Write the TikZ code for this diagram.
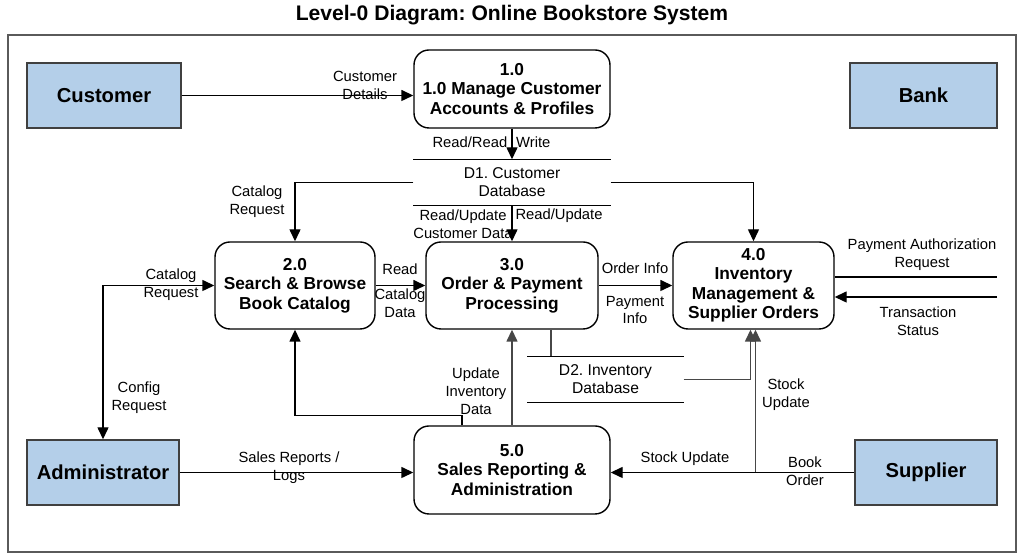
\documentclass[tikz,border=0pt]{standalone}
\usepackage{fontspec}
\setmainfont{Liberation Sans}
\usetikzlibrary{arrows.meta}
\definecolor{entityblue}{RGB}{180,207,233}
\definecolor{framegray}{RGB}{90,90,90}
\frenchspacing

\begin{document}
\begin{tikzpicture}[thick, >={Triangle[length=0.24cm,width=0.22cm]},
  entity/.style={rectangle, draw=black!75, fill=entityblue, font=\fontsize{11.5}{13}\selectfont\bfseries, minimum height=1.3cm},
  process/.style={rectangle, rounded corners=0.3cm, draw, fill=white, align=center, font=\fontsize{9.85}{11.1}\selectfont\bfseries, minimum height=1.74cm},
  store/.style={rectangle, draw=none, align=center, font=\fontsize{8.9}{10.3}\selectfont, minimum height=0.9cm},
  flow/.style={rectangle, draw=none, align=center, font=\fontsize{8.4}{10.2}\selectfont, inner sep=1pt},
  grayline/.style={draw=black!72}]
\useasboundingbox (0,0) rectangle (20.48,11.18);
%%%%%%%%%%%%%%%%%%%%%%%%%%%%%%% frame and title
\draw[framegray, line width=0.9pt] (0.16,0.14) rectangle (20.32,10.48);
\node[rectangle, draw=none, font=\fontsize{12}{14}\selectfont\bfseries](title) at (10.24,10.88){Level-0 Diagram: Online Bookstore System};

%%%%%%%%%%%%%%%%%%%%%%%%%%%%%%% external entities
\node[entity, minimum width=3.08cm](customer) at (2.08,9.27){Customer};
\node[entity, minimum width=2.94cm](bank) at (18.47,9.27){Bank};
\node[entity, minimum width=3.04cm](admin) at (2.06,1.73){Administrator};
\node[entity, minimum width=2.84cm](supplier) at (18.52,1.73){Supplier};

%%%%%%%%%%%%%%%%%%%%%%%%%%%%%%% processes
\node[process, minimum width=3.92cm, minimum height=1.56cm](p1) at (10.24,9.40){1.0\\1.0 Manage Customer\\Accounts \& Profiles};
\node[process, minimum width=3.20cm](p2) at (5.90,5.47){2.0\\Search \& Browse\\Book Catalog};
\node[process, minimum width=3.44cm](p3) at (10.24,5.47){3.0\\Order \& Payment\\Processing};
\node[process, minimum width=3.22cm](p4) at (15.07,5.47){4.0\\Inventory\\Management \&\\Supplier Orders};
\node[process, minimum width=3.92cm, minimum height=1.76cm](p5) at (10.24,1.78){5.0\\Sales Reporting \&\\Administration};

%%%%%%%%%%%%%%%%%%%%%%%%%%%%%%% data stores
\node[store, minimum width=3.92cm](d1) at (10.24,7.53){D1. Customer\\Database};
\draw (d1.north west) -- (d1.north east);
\draw (d1.south west) -- (d1.south east);
\node[store, minimum width=3.10cm](d2) at (12.11,3.59){D2. Inventory\\Database};
\draw (d2.north west) -- (d2.north east);
\draw (d2.south west) -- (d2.south east);

%%%%%%%%%%%%%%%%%%%%%%%%%%%%%%% data flows
\draw[->] (customer.east) -- (customer.east -| p1.west);
\node[flow](lCustDet) at (7.30,9.48){Customer\\Details};

\draw[->] (p1.south) -- (d1.north);
\node[flow](lReadWrite) at (9.83,8.34){Read/Read\hspace{0.18cm}Write};

\draw[->] (d1.west) -| (p2.north);
\node[flow](lCatReq) at (5.14,7.14){Catalog\\Request};
\draw[->] (d1.east) -| (p4.north);

\draw[->] (d1.south) -- (p3.north);
\node[flow](lReadUpdA) at (9.26,6.70){Read/Update\\Customer Data};
\node[flow](lReadUpdB) at (11.18,6.86){Read/Update};

\draw[->] (p2.east) -- (p3.west);
\node[flow](lRead) at (8.00,5.80){Read};
\node[flow](lCatData) at (8.00,5.12){Catalog\\Data};

\draw[->] (p3.east) -- (p4.west);
\node[flow](lOrder) at (12.70,5.82){Order Info};
\node[flow](lPayInfo) at (12.70,4.98){Payment\\Info};

\coordinate (bankOut) at (19.94,5.64);
\coordinate (bankIn) at (19.94,5.24);
\draw (bankOut -| p4.east) -- (bankOut);
\draw[->] (bankIn) -- (bankIn -| p4.east);
\node[flow](lPayAuth) at (18.44,6.08){Payment Authorization\\Request};
\node[flow](lTrans) at (18.36,4.76){Transaction\\Status};

\draw[<->] (admin.north) |- (p2.west);
\node[flow](lCatReqB) at (3.42,5.48){Catalog\\Request};
\node[flow](lConfig) at (2.78,3.22){Config\\Request};

\draw[->] (admin.east) -- (admin.east -| p5.west);
\node[flow](lSales) at (5.78,1.82){Sales Reports /\\Logs};

\draw[->] ([xshift=-1cm]p5.north) -- ++(0,0.2) -| (p2.south);
\draw[->, grayline] (p5.north) -- (p3.south);
\node[flow](lUpdInv) at (9.52,3.36){Update\\Inventory\\Data};

\draw[grayline] ([xshift=0.78cm]p3.south) -- ([xshift=0.78cm]p3.south |- d2.north);
\draw[->, grayline] (d2.east) -| ([xshift=-0.06cm]p4.south);

\draw[->] (supplier.west) -- (supplier.west -| p5.east);
\node[flow](lStockA) at (13.70,2.00){Stock Update};
\node[flow](lBook) at (16.10,1.76){Book\\Order};
\coordinate (split) at (15.11,1.73);
\draw[->, grayline] (split) -- (split |- p4.south);
\node[flow](lStockB) at (15.72,3.28){Stock\\Update};
\end{tikzpicture}
\end{document}
